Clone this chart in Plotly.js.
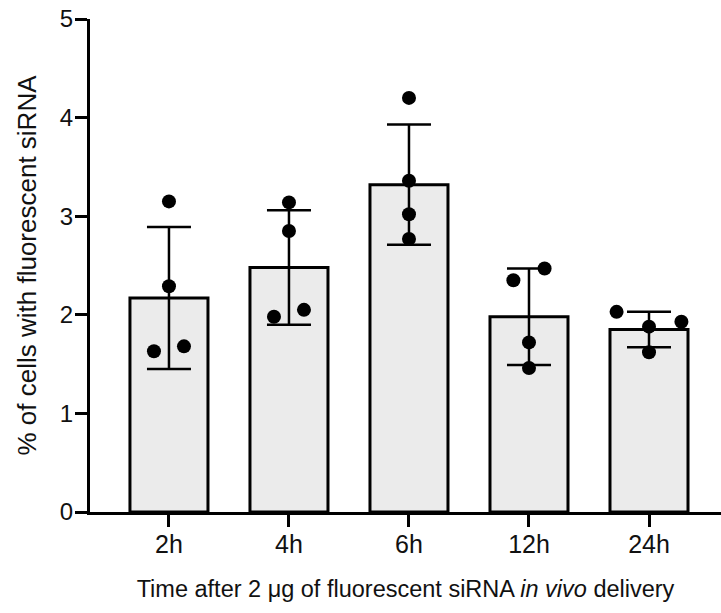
<!DOCTYPE html>
<html>
<head>
<meta charset="utf-8">
<script src="https://cdn.plot.ly/plotly-3.0.1.min.js"></script>
<style>html,body{margin:0;padding:0;background:#fff}#chart{width:721px;height:613px}</style>
</head>
<body>
<div id="chart"></div>
<script>
const categories = ['2h', '4h', '6h', '12h', '24h'];
const means = [2.17, 2.48, 3.32, 1.98, 1.85];
const sds = [0.72, 0.58, 0.61, 0.49, 0.18];
const points2h = [3.15, 2.29, 1.63, 1.68];
const points4h = [3.14, 2.85, 1.98, 2.05];
const points6h = [4.20, 3.36, 3.02, 2.77];
const points12h = [2.35, 2.47, 1.72, 1.46];
const points24h = [2.03, 1.88, 1.93, 1.62];
const jitter2h = [0, 0, -0.125, 0.125];
const jitter4h = [0, 0, -0.125, 0.125];
const jitter6h = [0, 0, 0, 0];
const jitter12h = [-0.13, 0.13, 0, 0];
const jitter24h = [-0.27, 0, 0.27, 0];

const groups = [points2h, points4h, points6h, points12h, points24h];
const jitters = [jitter2h, jitter4h, jitter6h, jitter12h, jitter24h];
const idx = categories.map((c, i) => i);

const px = [], py = [];
groups.forEach((g, i) => g.forEach((v, k) => { px.push(i + jitters[i][k]); py.push(v); }));

const FONT = 'Liberation Sans, Arial, Helvetica, sans-serif';

const traces = [
  {
    type: 'bar', x: idx, y: means, width: 0.65,
    marker: {color: '#ebebeb', line: {color: '#000', width: 3}},
    error_y: {type: 'data', array: sds, visible: true, color: '#000', thickness: 2.5, width: 22},
    hoverinfo: 'skip'
  },
  {
    type: 'scatter', mode: 'markers', x: px, y: py,
    marker: {color: '#000', size: 14},
    cliponaxis: false, hoverinfo: 'skip'
  }
];

const layout = {
  width: 721, height: 613,
  margin: {l: 90, r: 0, t: 19, b: 101},
  paper_bgcolor: '#fff', plot_bgcolor: '#fff',
  showlegend: false,
  font: {family: FONT, color: '#111'},
  xaxis: {
    range: [-0.658, 4.6], tickvals: idx, ticktext: categories,
    showgrid: false, zeroline: false, showline: true, linecolor: '#000', linewidth: 3,
    ticks: 'outside', ticklen: 12, tickwidth: 3, tickcolor: '#000',
    ticklabelstandoff: -4,
    tickfont: {family: FONT, size: 25, color: '#111'},
    title: {text: 'Time after 2 μg of fluorescent siRNA <i>in vivo</i> delivery', font: {family: FONT, size: 23.5, color: '#111'}, standoff: 24},
    automargin: false
  },
  yaxis: {
    range: [0, 5], dtick: 1, tick0: 0,
    showgrid: false, zeroline: false, showline: true, linecolor: '#000', linewidth: 3,
    ticks: 'outside', ticklen: 12, tickwidth: 3, tickcolor: '#000',
    ticklabelstandoff: -3,
    tickfont: {family: FONT, size: 24, color: '#111'},
    title: {text: '% of cells with fluorescent siRNA', font: {family: FONT, size: 26, color: '#111'}, standoff: 16},
    automargin: false
  },
  bargap: 0.35
};

Plotly.newPlot('chart', traces, layout, {staticPlot: true, displayModeBar: false});
</script>
</body>
</html>
